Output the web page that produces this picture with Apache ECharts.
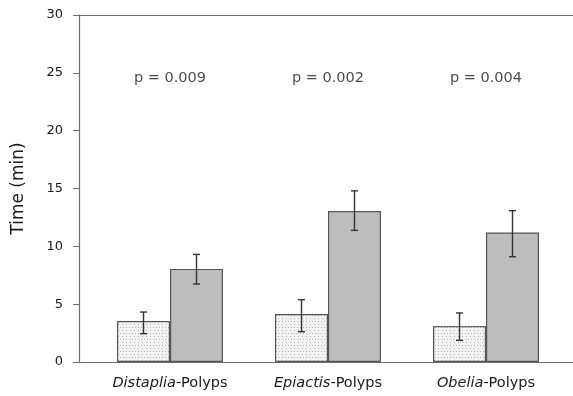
<!DOCTYPE html>
<html>
<head>
<meta charset="utf-8">
<script src="https://cdn.jsdelivr.net/npm/echarts@6/dist/echarts.min.js"></script>
<style>
html,body{margin:0;padding:0;background:#fff;overflow:hidden;}
#chart{width:573px;height:396px;}
</style>
</head>
<body>
<div id="chart"></div>
<script>
const categories = ['Distaplia-Polyps', 'Epiactis-Polyps', 'Obelia-Polyps'];
const pLabels = ['p = 0.009', 'p = 0.002', 'p = 0.004'];
const lightValues = [3.55, 4.15, 3.1];
const lightErrLow = [2.45, 2.62, 1.87];
const lightErrHigh = [4.32, 5.39, 4.24];
const darkValues = [8.05, 13.05, 11.2];
const darkErrLow = [6.74, 11.38, 9.1];
const darkErrHigh = [9.3, 14.8, 13.08];
const yTicks = [0, 5, 10, 15, 20, 25, 30];
const pLevel = 24.5;

const FONT = 'DejaVu Sans';
const TXT = '#1a1a1a';
const AX = '#6e6e6e';
const BAR_W = 53;
const chart = echarts.init(document.getElementById('chart'));

function errSeries(low, high, side) {
  return {
    type: 'custom',
    xAxisIndex: 0, yAxisIndex: 0,
    z: 10,
    data: low.map((l, i) => [i, l, high[i]]),
    renderItem: function (params, api) {
      const i = api.value(0);
      const pLo = api.coord([i, api.value(1)]);
      const pHi = api.coord([i, api.value(2)]);
      const x = pLo[0] + side * BAR_W / 2;
      const cap = 3.5;
      const st = { stroke: '#333', lineWidth: 1.4 };
      return {
        type: 'group',
        children: [
          { type: 'line', shape: { x1: x, y1: pLo[1], x2: x, y2: pHi[1] }, style: st },
          { type: 'line', shape: { x1: x - cap, y1: pLo[1], x2: x + cap, y2: pLo[1] }, style: st },
          { type: 'line', shape: { x1: x - cap, y1: pHi[1], x2: x + cap, y2: pHi[1] }, style: st }
        ]
      };
    }
  };
}

const frameAxis = (pos) => ({
  type: 'value', gridIndex: 1, position: pos, min: 0, max: 1,
  axisLine: { show: true, onZero: false, lineStyle: { color: AX, width: 1.2 } },
  axisTick: { show: false }, axisLabel: { show: false }, splitLine: { show: false }
});

const option = {
  animation: false,
  backgroundColor: '#fff',
  textStyle: { fontFamily: FONT },
  grid: [
    { left: 91, right: 8, top: 15, bottom: 34 },
    { left: 79, right: 0, top: 15, bottom: 34 }
  ],
  xAxis: [
    {
      type: 'category', gridIndex: 0, data: categories,
      axisLine: { show: false }, axisTick: { show: false },
      axisLabel: {
        interval: 0, hideOverlap: false,
        margin: 14, color: TXT, fontSize: 14.5, fontFamily: FONT,
        formatter: function (v) {
          const k = v.indexOf('-');
          return '{i|' + v.slice(0, k) + '}' + v.slice(k);
        },
        rich: { i: { fontStyle: 'italic', fontSize: 14.5, color: TXT, fontFamily: FONT } }
      }
    },
    frameAxis('bottom'),
    frameAxis('top')
  ],
  yAxis: [
    {
      type: 'value', gridIndex: 0, min: 0, max: 30, interval: 5, offset: 12,
      name: 'Time (min)', nameLocation: 'middle', nameGap: 52,
      nameTextStyle: { fontSize: 17, color: TXT, fontFamily: FONT },
      axisLine: { show: true, lineStyle: { color: AX, width: 1.2 } },
      axisTick: { show: true, length: 6, lineStyle: { color: AX } },
      splitLine: { show: false },
      axisLabel: {
        margin: 16, color: TXT, fontSize: 13, fontFamily: FONT,
        formatter: function (v) { return yTicks.indexOf(v) >= 0 ? String(v) : ''; }
      }
    },
    { type: 'value', gridIndex: 1, show: false, min: 0, max: 1 }
  ],
  series: [
    {
      type: 'bar', xAxisIndex: 0, yAxisIndex: 0,
      data: lightValues, barWidth: BAR_W, barGap: '0%',
      itemStyle: {
        color: '#f3f3f3', borderColor: '#555', borderWidth: 1.2,
        decal: {
          symbol: 'rect', symbolSize: 1, color: '#b0b0b0',
          dashArrayX: [[1, 2], [0, 1.5, 1, 0.5]], dashArrayY: [1, 1.5],
          backgroundColor: '#f3f3f3'
        }
      }
    },
    {
      type: 'bar', xAxisIndex: 0, yAxisIndex: 0,
      data: darkValues, barWidth: BAR_W, barGap: '0%',
      itemStyle: { color: '#bdbdbd', borderColor: '#555', borderWidth: 1.2 }
    },
    errSeries(lightErrLow, lightErrHigh, -1),
    errSeries(darkErrLow, darkErrHigh, 1),
    {
      type: 'scatter', xAxisIndex: 0, yAxisIndex: 0,
      symbolSize: 0,
      data: pLabels.map((p, i) => [i, pLevel]),
      label: {
        show: true, position: 'inside', color: TXT, fontSize: 14.5, fontFamily: FONT,
        formatter: function (p) { return pLabels[p.dataIndex]; }
      }
    }
  ]
};
chart.setOption(option);
</script>
</body>
</html>
